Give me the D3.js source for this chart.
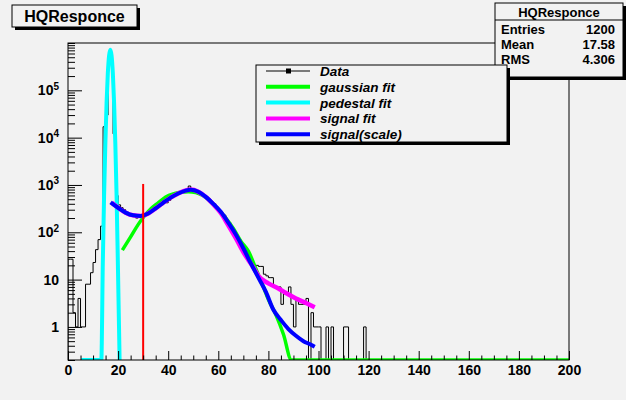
<!DOCTYPE html>
<html>
<head>
<meta charset="utf-8">
<script src="https://cdn.jsdelivr.net/npm/d3@7.9.0/dist/d3.min.js"></script>
<style>
  body { margin: 0; background: #f2f2f2; }
  svg { display: block; font-family: "Liberation Sans", Arial, sans-serif; }
</style>
</head>
<body>
<svg id="chart" width="626" height="400"></svg>
<script>
// histogram contents, one bin per unit starting at 0
const counts = [
  27, 27, 2, 1, 4, 1, 1, 8, 8, 14,
  23, 43, 70, 135, 17000, 30000, 500000, 400000, 12000, 600,
  380, 330, 300, 270, 240, 220, 215, 200, 230, 210,
  235, 240, 260, 280, 300, 330, 360, 380, 440, 420,
  470, 560, 580, 640, 650, 720, 760, 800, 950, 820,
  800, 760, 700, 650, 600, 560, 500, 430, 400, 340,
  280, 250, 230, 180, 160, 125, 100, 85, 70, 55,
  44, 35, 28, 22, 20, 20, 19, 19, 13, 12,
  11, 11, 7, 7, 7, 3, 5, 5, 7, 3,
  1, 4, 3, 3, 3, 4, 0, 2, 1, 1,
  1, 0, 0, 1, 0, 1, 0, 0, 0, 0,
  1, 1, 0, 0, 0, 0, 0, 0, 1, 0
];

// fit curves: [x, value]
const gaussFit = [
  [21.7, 42], [25, 80], [28, 145], [30, 205], [33, 310], [36, 420], [39, 560],
  [42, 650], [45, 700], [48, 720], [51, 690], [54, 590], [57, 440], [60, 300],
  [63, 200], [66, 120], [69, 65], [72, 40], [75, 17], [78, 7], [80, 3.8],
  [83, 1.8], [86, 0.7], [89.2, 0.2], [95, 0.01], [200, 0.01]
];
const pedestalFit = [
  [5.3, 0.01], [13.3, 0.2], [13.9, 23], [14.4, 575], [14.9, 7200], [15.4, 54000],
  [15.9, 230000], [16.4, 540000], [16.9, 720000], [17.4, 540000], [17.9, 230000],
  [18.4, 54000], [18.9, 7200], [19.4, 575], [19.9, 23], [20.6, 0.2]
];
const signalFit = [
  [17.5, 420], [20, 330], [23, 260], [26, 228], [29, 222], [32, 250], [35, 320],
  [38, 420], [41, 540], [44, 660], [47, 770], [49, 800], [52, 720], [55, 560],
  [58, 390], [61, 255], [64, 140], [67, 75], [70, 38], [72, 26], [74, 18],
  [76, 12], [80, 8.3], [84, 6.5], [87, 5.2], [91, 4], [95, 3.2], [98.5, 2.6]
];
const signalScale = [
  [17, 430], [20, 330], [23, 260], [26, 228], [29, 222], [32, 250], [35, 320],
  [38, 420], [41, 540], [44, 660], [47, 760], [49, 790], [52, 720], [55, 560],
  [58, 400], [61, 270], [64, 160], [67, 90], [70, 46], [73, 22], [76, 11],
  [79, 5.5], [82, 2.3], [85, 1.4], [88, 0.9], [91, 0.65], [94, 0.5], [97, 0.42], [98.5, 0.38]
];
const cutX = 30, cutTop = 1050;

const xTicks = [0, 20, 40, 60, 80, 100, 120, 140, 160, 180, 200];
const yTicks = [1, 10, 100, 1000, 10000, 100000];

const legendLabels = ["Data", "gaussian fit", "pedestal fit", "signal fit", "signal(scale)"];
const legendColors = ["#000", "#00ff00", "#00ffff", "#ff00ff", "#0000ff"];
const statNames = ["Entries", "Mean", "RMS"];
const statValues = ["1200", "17.58", "4.306"];

const svg = d3.select('#chart');
const bg = '#f2f2f2';
const fLeft = 68, fRight = 569, fTop = 43, fBottom = 360;
const ymin = 0.2;

let x = d3.scaleLinear().domain([0, 200]).range([fLeft, fRight]);
let y = d3.scaleLog().domain([ymin, 1e6]).range([fBottom, fTop]);
const yc = (v) => y(Math.max(v, ymin));

svg.append('rect').attr('width', 626).attr('height', 400).attr('fill', bg);

svg.append('clipPath').attr('id', 'frameclip')
  .append('rect').attr('x', fLeft).attr('y', fTop).attr('width', fRight - fLeft).attr('height', fBottom - fTop);

let plot = svg.append('g').attr('clip-path', 'url(#frameclip)');

// histogram as steps
let histPts = counts.map((c, i) => [i, c]);
histPts.push([counts.length, 0]);
histPts.push([200, 0]);
let stepLine = d3.line().x(d => x(d[0])).y(d => yc(d[1])).curve(d3.curveStepAfter);
plot.append('path')
  .attr('d', stepLine([[0, 0]].concat(histPts)))
  .attr('fill', 'none').attr('stroke', '#000').attr('stroke-width', 1);

let curve = d3.line().x(d => x(d[0])).y(d => yc(d[1])).curve(d3.curveMonotoneX);

plot.append('path').attr('d', curve(pedestalFit))
  .attr('fill', 'none').attr('stroke', '#00ffff').attr('stroke-width', 4);
plot.append('path').attr('d', curve(gaussFit))
  .attr('fill', 'none').attr('stroke', '#00ff00').attr('stroke-width', 3.5);
plot.append('path').attr('d', curve(signalFit))
  .attr('fill', 'none').attr('stroke', '#ff00ff').attr('stroke-width', 4.5);
plot.append('path').attr('d', curve(signalScale))
  .attr('fill', 'none').attr('stroke', '#0000ff').attr('stroke-width', 4);

// cut line
plot.append('line')
  .attr('x1', x(cutX)).attr('x2', x(cutX))
  .attr('y1', fBottom).attr('y2', y(cutTop))
  .attr('stroke', '#ff0000').attr('stroke-width', 2);

// frame
svg.append('rect')
  .attr('x', fLeft).attr('y', fTop).attr('width', fRight - fLeft).attr('height', fBottom - fTop)
  .attr('fill', 'none').attr('stroke', '#000').attr('stroke-width', 1);

// x axis
let xMinor = d3.range(0, 201, 5).filter(v => v % 20 !== 0);
svg.append('g').attr('transform', `translate(0,${fBottom})`)
  .call(d3.axisBottom(x).tickValues(xMinor).tickSizeInner(-4.5).tickSizeOuter(0).tickFormat(''))
  .call(g => g.select('.domain').remove());
svg.append('g').attr('transform', `translate(0,${fBottom})`)
  .call(d3.axisBottom(x).tickValues(xTicks).tickSizeInner(-9).tickSizeOuter(0).tickPadding(5).tickFormat(d3.format('d')))
  .call(g => g.select('.domain').remove())
  .call(g => g.selectAll('text').attr('fill', '#000')
    .attr('font-size', 14).attr('font-weight', 'bold').attr('font-family', '"Liberation Sans", Arial, sans-serif'));

// y axis
let yMinor = [];
for (let e = -1; e <= 5; e++) {
  for (let m = 2; m <= 9; m++) {
    let v = m * Math.pow(10, e);
    if (v >= ymin && v <= 1e6) yMinor.push(v);
  }
}
yMinor.push(1e6);
svg.append('g').attr('transform', `translate(${fLeft},0)`)
  .call(d3.axisLeft(y).tickValues(yMinor).tickSizeInner(-7).tickSizeOuter(0).tickFormat(''))
  .call(g => g.select('.domain').remove());
svg.append('g').attr('transform', `translate(${fLeft},0)`)
  .call(d3.axisLeft(y).tickValues(yTicks).tickSizeInner(-14).tickSizeOuter(0).tickPadding(9).tickFormat(''))
  .call(g => g.select('.domain').remove())
  .call(g => g.selectAll('.tick text').each(function (d) {
    let t = d3.select(this).attr('fill', '#000')
      .attr('font-size', 14).attr('font-weight', 'bold').attr('font-family', '"Liberation Sans", Arial, sans-serif');
    let p = Math.round(Math.log10(d));
    if (p <= 1) {
      t.text(String(d));
    } else {
      t.text(null);
      t.append('tspan').text('10');
      t.append('tspan').attr('font-size', 10).attr('dy', '-0.55em').text(p);
    }
  }));

// boxes with ROOT style shadow
function shadowBox(x0, y0, w, h) {
  svg.append('rect').attr('x', x0 + 3).attr('y', y0 + 3).attr('width', w).attr('height', h).attr('fill', '#000');
  svg.append('rect').attr('x', x0).attr('y', y0).attr('width', w).attr('height', h)
    .attr('fill', bg).attr('stroke', '#000').attr('stroke-width', 1);
}

// title
shadowBox(12, 5, 125, 22);
svg.append('text').attr('x', 74.5).attr('y', 22).attr('text-anchor', 'middle')
  .attr('font-size', 16).attr('font-weight', 'bold').text('HQResponce');

// stats box
shadowBox(495, 3, 128, 74);
svg.append('line').attr('x1', 495).attr('x2', 623).attr('y1', 20).attr('y2', 20).attr('stroke', '#000');
svg.append('text').attr('x', 559).attr('y', 17).attr('text-anchor', 'middle')
  .attr('font-size', 13).attr('font-weight', 'bold').text('HQResponce');
statNames.forEach((n, i) => {
  svg.append('text').attr('x', 501).attr('y', 33.5 + i * 15)
    .attr('font-size', 13).attr('font-weight', 'bold').text(n);
  svg.append('text').attr('x', 615).attr('y', 33.5 + i * 15).attr('text-anchor', 'end')
    .attr('font-size', 13).attr('font-weight', 'bold').text(statValues[i]);
});

// legend
shadowBox(256, 65, 251, 77);
legendLabels.forEach((lab, i) => {
  let cy = 71 + i * 15.8;
  svg.append('line').attr('x1', 266).attr('x2', 310).attr('y1', cy).attr('y2', cy)
    .attr('stroke', legendColors[i]).attr('stroke-width', i === 0 ? 1 : 4);
  if (i === 0) {
    svg.append('rect').attr('x', 286).attr('y', cy - 2.5).attr('width', 5).attr('height', 5).attr('fill', '#000');
  }
  svg.append('text').attr('x', 320).attr('y', cy + 5)
    .attr('font-size', 13.5).attr('font-weight', 'bold').attr('font-style', 'italic').text(lab);
});
</script>
</body>
</html>
